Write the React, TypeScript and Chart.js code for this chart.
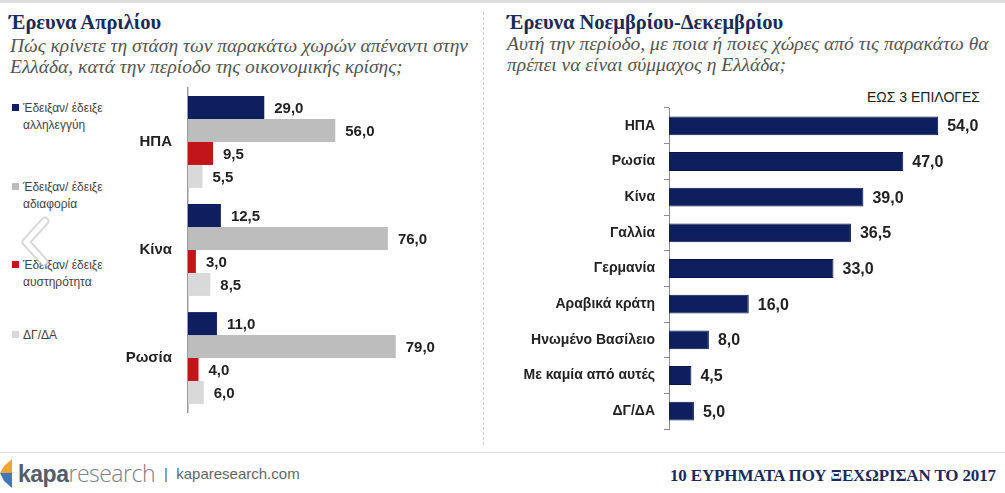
import React, { useEffect, useRef } from "react";
import { Chart, registerables } from "chart.js";

Chart.register(...registerables);

// April survey: attitude of each country towards Greece during the crisis
const aprilCountries = ["ΗΠΑ", "Κίνα", "Ρωσία"];
const solidarity = [29.0, 12.5, 11.0];
const indifference = [56.0, 76.0, 79.0];
const strictness = [9.5, 3.0, 4.0];
const noAnswer = [5.5, 8.5, 6.0];
const aprilSeriesLabels = [
  ["Έδειξαν/ έδειξε", "αλληλεγγύη"],
  ["Έδειξαν/ έδειξε", "αδιαφορία"],
  ["Έδειξαν/ έδειξε", "αυστηρότητα"],
  ["ΔΓ/ΔΑ"],
];
const aprilColors = ["#0d1f5e", "#bdbdbd", "#c2151b", "#d9d9d9"];

// November-December survey: preferred allies (up to 3 choices)
const allyCountries = [
  "ΗΠΑ",
  "Ρωσία",
  "Κίνα",
  "Γαλλία",
  "Γερμανία",
  "Αραβικά κράτη",
  "Ηνωμένο Βασίλειο",
  "Με καμία από αυτές",
  "ΔΓ/ΔΑ",
];
const allyValues = [54.0, 47.0, 39.0, 36.5, 33.0, 16.0, 8.0, 4.5, 5.0];
const allyColor = "#0d1f5e";

const SANS = "'Liberation Sans', Arial, sans-serif";
const SERIF = "'Liberation Serif', 'DejaVu Serif', serif";

const valueLabels = (size: number, gap: number) => ({
  id: "valueLabels",
  afterDatasetsDraw(chart: any) {
    const ctx = chart.ctx;
    ctx.save();
    ctx.font = `bold ${size}px ${SANS}`;
    ctx.fillStyle = "#222222";
    ctx.textBaseline = "middle";
    ctx.textAlign = "left";
    chart.data.datasets.forEach((ds: any, i: number) => {
      const meta = chart.getDatasetMeta(i);
      meta.data.forEach((bar: any, j: number) => {
        const v = ds.data[j] as number;
        ctx.fillText(v.toFixed(1).replace(".", ","), bar.x + gap, bar.y + 1);
      });
    });
    ctx.restore();
  },
});

function AprilChart() {
  const ref = useRef<HTMLCanvasElement>(null);
  useEffect(() => {
    if (!ref.current) return;
    const series = [solidarity, indifference, strictness, noAnswer];
    const chart = new Chart(ref.current, {
      type: "bar",
      data: {
        labels: aprilCountries,
        datasets: series.map((data, i) => ({
          label: aprilSeriesLabels[i].join(" "),
          data,
          backgroundColor: aprilColors[i],
          categoryPercentage: 0.85,
          barPercentage: 1.0,
        })),
      },
      options: {
        indexAxis: "y",
        responsive: false,
        animation: false,
        layout: { padding: { top: 25, bottom: 25, left: 0, right: 19 } },
        plugins: { legend: { display: false }, tooltip: { enabled: false } },
        scales: {
          x: { display: false, min: 0, max: 100 },
          y: {
            afterFit: (s: any) => {
              s.width = 88;
            },
            grid: { display: false, drawTicks: false },
            border: { display: true, color: "#9a9a9a", width: 1.5 },
            ticks: {
              padding: 16,
              color: "#222222",
              font: { family: SANS, size: 15, weight: "bold" },
            },
          },
        },
      },
      plugins: [valueLabels(15, 10)],
    } as any);
    return () => chart.destroy();
  }, []);
  return (
    <canvas
      ref={ref}
      width={370}
      height={374}
      style={{ position: "absolute", left: 100, top: 63, width: 370, height: 374 }}
    />
  );
}

function AllyChart() {
  const ref = useRef<HTMLCanvasElement>(null);
  useEffect(() => {
    if (!ref.current) return;
    const chart = new Chart(ref.current, {
      type: "bar",
      data: {
        labels: allyCountries,
        datasets: [
          {
            label: "Σύμμαχοι",
            data: allyValues,
            backgroundColor: allyColor,
            borderColor: "#081546",
            borderWidth: 1,
            categoryPercentage: 1.0,
            barPercentage: 0.53,
          },
        ],
      },
      options: {
        indexAxis: "y",
        responsive: false,
        animation: false,
        layout: { padding: { top: 18, bottom: 18, left: 0, right: 7 } },
        plugins: { legend: { display: false }, tooltip: { enabled: false } },
        scales: {
          x: { display: false, min: 0, max: 65 },
          y: {
            afterFit: (s: any) => {
              s.width = 179;
            },
            grid: {
              display: true,
              drawOnChartArea: false,
              drawTicks: true,
              tickLength: 5,
              color: "#8c8c8c",
              offset: true,
            },
            border: { display: true, color: "#8c8c8c", width: 1 },
            ticks: {
              padding: 9,
              color: "#222222",
              font: { family: SANS, size: 14, weight: "bold" },
            },
          },
        },
      },
      plugins: [valueLabels(16, 9)],
    } as any);
    return () => chart.destroy();
  }, []);
  return (
    <canvas
      ref={ref}
      width={510}
      height={357}
      style={{ position: "absolute", left: 490, top: 90, width: 510, height: 357 }}
    />
  );
}

const abs = (s: React.CSSProperties): React.CSSProperties => ({ position: "absolute", ...s });

const titleStyle: React.CSSProperties = {
  fontFamily: SERIF,
  fontWeight: "bold",
  fontSize: 20.5,
  lineHeight: "24px",
  color: "#1b2a5c",
  whiteSpace: "nowrap",
};

const subtitleStyle: React.CSSProperties = {
  fontFamily: SERIF,
  fontStyle: "italic",
  fontSize: 19.5,
  lineHeight: "21px",
  color: "#555555",
  whiteSpace: "nowrap",
};

export default function App() {
  const legendTops = [100, 179, 257, 327];
  return (
    <div
      style={abs({
        left: 0,
        top: 0,
        width: 1005,
        height: 493,
        background: "#ffffff",
        overflow: "hidden",
        fontFamily: SANS,
      })}
    >
      <div style={abs({ left: 0, top: 0, width: 1005, height: 3, background: "#dedede" })} />
      <div
        style={abs({ left: 483, top: 12, height: 433, width: 0, borderLeft: "1px dashed #cfcfcf" })}
      />
      <div style={abs({ left: 0, top: 452, width: 1005, height: 1, background: "#dadada" })} />

      {/* Left panel headings */}
      <div style={abs({ left: 9, top: 10, ...titleStyle })}>Έρευνα Απριλίου</div>
      <div style={abs({ left: 10, top: 35, ...subtitleStyle })}>
        Πώς κρίνετε τη στάση των παρακάτω χωρών απέναντι στην
        <br />
        Ελλάδα, κατά την περίοδο της οικονομικής κρίσης;
      </div>

      {/* Right panel headings */}
      <div style={abs({ left: 507, top: 10, ...titleStyle })}>Έρευνα Νοεμβρίου-Δεκεμβρίου</div>
      <div style={abs({ left: 507, top: 33, ...subtitleStyle })}>
        Αυτή την περίοδο, με ποια ή ποιες χώρες από τις παρακάτω θα
        <br />
        πρέπει να είναι σύμμαχος η Ελλάδα;
      </div>
      <div
        style={abs({
          right: 25,
          top: 89,
          fontSize: 14,
          lineHeight: "16px",
          color: "#222222",
          whiteSpace: "nowrap",
          textAlign: "right",
        })}
      >
        ΕΩΣ 3 ΕΠΙΛΟΓΕΣ
      </div>

      {/* Left legend */}
      {aprilSeriesLabels.map((lines, i) => (
        <React.Fragment key={i}>
          <div
            style={abs({
              left: 12,
              top: legendTops[i] + 4,
              width: 7,
              height: 7,
              background: aprilColors[i],
            })}
          />
          <div
            style={abs({
              left: 23,
              top: legendTops[i],
              fontSize: 12,
              lineHeight: "17px",
              color: "#444444",
              whiteSpace: "nowrap",
            })}
          >
            {lines.map((t, k) => (
              <div key={k}>{t}</div>
            ))}
          </div>
        </React.Fragment>
      ))}

      <AprilChart />
      <AllyChart />

      {/* Slider arrow */}
      <svg style={abs({ left: 0, top: 200, width: 80, height: 80 })} width={80} height={80}>
        <polyline
          points="45,21 26,42 44,62"
          fill="none"
          stroke="#c8c8c8"
          strokeWidth={9}
          strokeLinecap="round"
          strokeLinejoin="round"
          opacity={0.7}
        />
        <polyline
          points="45,21 26,42 44,62"
          fill="none"
          stroke="#ffffff"
          strokeWidth={5}
          strokeLinecap="round"
          strokeLinejoin="round"
        />
      </svg>

      {/* Footer */}
      <svg style={abs({ left: 0, top: 459, width: 16, height: 30 })} width={16} height={30}>
        <polygon points="12,0 12,14 0,14 4,7" fill="#f0a531" />
        <polygon points="0,14 12,14 12,29 4,22" fill="#3f78b8" />
      </svg>
      <div
        style={abs({
          left: 18,
          top: 460,
          fontSize: 23,
          lineHeight: "26px",
          whiteSpace: "nowrap",
          letterSpacing: "-0.5px",
        })}
      >
        <span style={{ color: "#555d6b", fontWeight: "bold" }}>kapa</span>
        <span style={{ color: "#7a7f88", fontWeight: 300, fontFamily: "'Open Sans', sans-serif" }}>
          research
        </span>
      </div>
      <div
        style={abs({
          left: 164,
          top: 465,
          fontSize: 15,
          lineHeight: "18px",
          color: "#666666",
          whiteSpace: "nowrap",
        })}
      >
        |&nbsp;&nbsp;kaparesearch.com
      </div>
      <div
        style={abs({
          left: 670,
          top: 465,
          fontFamily: SERIF,
          fontWeight: "bold",
          fontSize: 17,
          lineHeight: "22px",
          color: "#1b2a5c",
          whiteSpace: "nowrap",
          letterSpacing: "-0.15px",
        })}
      >
        10 ΕΥΡΗΜΑΤΑ ΠΟΥ ΞΕΧΩΡΙΣΑΝ ΤΟ 2017
      </div>
    </div>
  );
}
